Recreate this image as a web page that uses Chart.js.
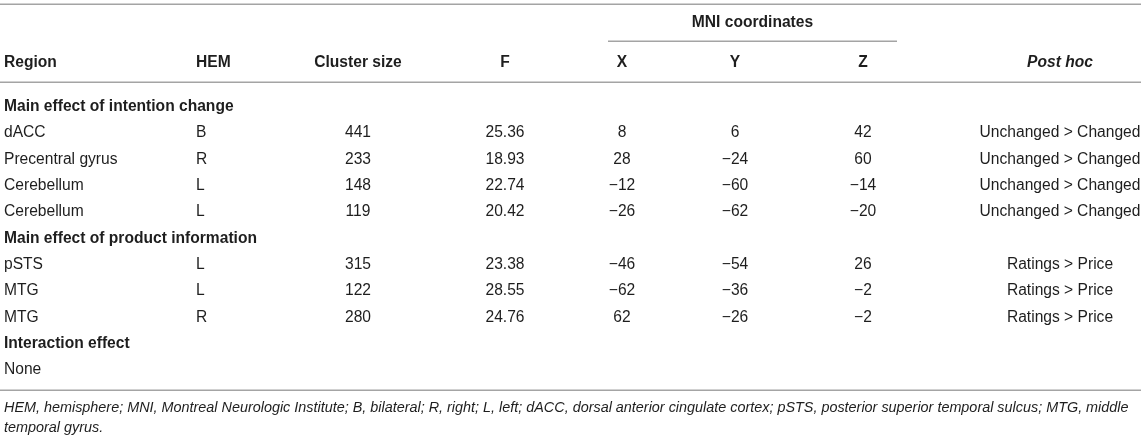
<!DOCTYPE html>
<html>
<head>
<meta charset="utf-8">
<script src="https://cdn.jsdelivr.net/npm/chart.js@4.4.1/dist/chart.umd.min.js"></script>
<style>
html,body{margin:0;padding:0;background:#fff;overflow:hidden}
#wrap{position:relative;width:1145px;height:439px}
</style>
</head>
<body>
<div id="wrap"><canvas id="c"></canvas></div>
<script>
// ---------- DATA ----------
const columnHeaders = ["Region", "HEM", "Cluster size", "F", "X", "Y", "Z", "Post hoc"];
const groupHeader = "MNI coordinates";
const sections = ["Main effect of intention change", "Main effect of product information", "Interaction effect"];
const sectionOf = [0, 0, 0, 0, 1, 1, 1];
const regions = ["dACC", "Precentral gyrus", "Cerebellum", "Cerebellum", "pSTS", "MTG", "MTG"];
const hemispheres = ["B", "R", "L", "L", "L", "L", "R"];
const clusterSizes = [441, 233, 148, 119, 315, 122, 280];
const fValues = [25.36, 18.93, 22.74, 20.42, 23.38, 28.55, 24.76];
const mniX = [8, 28, -12, -26, -46, -62, 62];
const mniY = [6, -24, -60, -62, -54, -36, -26];
const mniZ = [42, 60, -14, -20, 26, -2, -2];
const postHoc = ["Unchanged > Changed", "Unchanged > Changed", "Unchanged > Changed", "Unchanged > Changed",
                 "Ratings > Price", "Ratings > Price", "Ratings > Price"];
const emptySectionText = "None";
const footnoteLines = [
  "HEM, hemisphere; MNI, Montreal Neurologic Institute; B, bilateral; R, right; L, left; dACC, dorsal anterior cingulate cortex; pSTS, posterior superior temporal sulcus; MTG, middle",
  "temporal gyrus."
];

// ---------- LAYOUT (positions / styles, not data) ----------
const colAnchor = [4, 196, 358, 505, 622, 735, 863, 1060];   // x-scale units
const colAlign  = ["left", "left", "center", "center", "center", "center", "center", "center"];
const groupSpan = [608, 897];           // x range of MNI rule
const tableSpan = [0, 1141];
const rowPos = {                        // y-scale units (row index)
  topRule: -3.86, groupHead: -3.18, groupRule: -2.47, head: -1.69, headRule: -0.875,
  bottomRule: 10.82, foot1: 11.47, foot2: 12.2
};
const FONT = "'Liberation Sans', Arial, Helvetica, sans-serif";
const TEXT_SIZE = 15.6, FOOT_SIZE = 14.4;
const TEXT_COLOR = "#1e1e1e", RULE_COLOR = "#a4a4a4";

// ---------- BUILD ROWS ----------
const fmt = v => (v < 0 ? "\u2212" + Math.abs(v) : String(v));
const sectionRows = [];
const dataRows = [];
let r = 0;
sections.forEach((s, si) => {
  sectionRows.push({ row: r++, text: s });
  const idx = sectionOf.map((g, i) => g === si ? i : -1).filter(i => i >= 0);
  if (idx.length === 0) { dataRows.push({ row: r++, empty: true }); }
  idx.forEach(i => { dataRows.push({ row: r++, i }); });
});

const columnsText = [
  i => regions[i], i => hemispheres[i], i => String(clusterSizes[i]), i => fValues[i].toFixed(2),
  i => fmt(mniX[i]), i => fmt(mniY[i]), i => fmt(mniZ[i]), i => postHoc[i]
];

const datasets = columnsText.map((getText, c) => {
  const rows = dataRows.filter(d => !d.empty);
  return {
    label: columnHeaders[c],
    data: rows.map(d => ({ x: colAnchor[c], y: d.row })),
    texts: rows.map(d => getText(d.i)),
    align: colAlign[c], bold: false
  };
});
datasets.push({
  label: "sections",
  data: sectionRows.map(s => ({ x: colAnchor[0], y: s.row })),
  texts: sectionRows.map(s => s.text), align: "left", bold: true
});
datasets.push({
  label: "empty",
  data: dataRows.filter(d => d.empty).map(d => ({ x: colAnchor[0], y: d.row })),
  texts: dataRows.filter(d => d.empty).map(() => emptySectionText), align: "left", bold: false
});

// ---------- PLUGIN: draws table text & rules through the scales ----------
const tablePlugin = {
  id: "tableText",
  afterDatasetsDraw(chart) {
    const ctx = chart.ctx, xs = chart.scales.x, ys = chart.scales.y;
    const base = size => size * 0.36;
    ctx.save();
    ctx.strokeStyle = RULE_COLOR; ctx.lineWidth = 1.6;
    const hline = (x0, x1, row) => {
      const y = Math.round(ys.getPixelForValue(row)) + 0.2;
      ctx.beginPath(); ctx.moveTo(xs.getPixelForValue(x0), y); ctx.lineTo(xs.getPixelForValue(x1), y); ctx.stroke();
    };
    hline(tableSpan[0], tableSpan[1], rowPos.topRule);
    hline(groupSpan[0], groupSpan[1], rowPos.groupRule);
    hline(tableSpan[0], tableSpan[1], rowPos.headRule);
    hline(tableSpan[0], tableSpan[1], rowPos.bottomRule);

    ctx.fillStyle = TEXT_COLOR; ctx.textBaseline = "alphabetic";
    ctx.font = "bold " + TEXT_SIZE + "px " + FONT; ctx.textAlign = "center";
    ctx.fillText(groupHeader, xs.getPixelForValue((groupSpan[0] + groupSpan[1]) / 2),
                 ys.getPixelForValue(rowPos.groupHead) + base(TEXT_SIZE));
    columnHeaders.forEach((h, c) => {
      ctx.font = (c === 7 ? "italic bold " : "bold ") + TEXT_SIZE + "px " + FONT;
      ctx.textAlign = colAlign[c];
      ctx.fillText(h, xs.getPixelForValue(colAnchor[c]), ys.getPixelForValue(rowPos.head) + base(TEXT_SIZE));
    });
    chart.data.datasets.forEach((ds, di) => {
      const meta = chart.getDatasetMeta(di);
      ctx.font = (ds.bold ? "bold " : "") + TEXT_SIZE + "px " + FONT;
      ctx.textAlign = ds.align;
      meta.data.forEach((el, k) => {
        ctx.fillText(ds.texts[k], el.x, el.y + base(TEXT_SIZE));
      });
    });
    ctx.font = "italic " + FOOT_SIZE + "px " + FONT; ctx.textAlign = "left";
    ctx.fillText(footnoteLines[0], xs.getPixelForValue(colAnchor[0]), ys.getPixelForValue(rowPos.foot1) + base(FOOT_SIZE));
    ctx.fillText(footnoteLines[1], xs.getPixelForValue(colAnchor[0]), ys.getPixelForValue(rowPos.foot2) + base(FOOT_SIZE));
    ctx.restore();
  }
};

const ROW0 = 105.5, PITCH = 26.3, H = 439, W = 1145;
const yMin = -ROW0 / PITCH, yMax = yMin + H / PITCH;

new Chart(document.getElementById("c"), {
  type: "scatter",
  data: { datasets },
  options: {
    responsive: true, maintainAspectRatio: false, animation: false, events: [],
    layout: { padding: 0 },
    elements: { point: { radius: 0, hoverRadius: 0 } },
    plugins: { legend: { display: false }, tooltip: { enabled: false }, title: { display: false } },
    scales: {
      x: { type: "linear", min: 0, max: W, display: false },
      y: { type: "linear", min: yMin, max: yMax, reverse: true, display: false }
    }
  },
  plugins: [tablePlugin]
});
</script>
</body>
</html>
